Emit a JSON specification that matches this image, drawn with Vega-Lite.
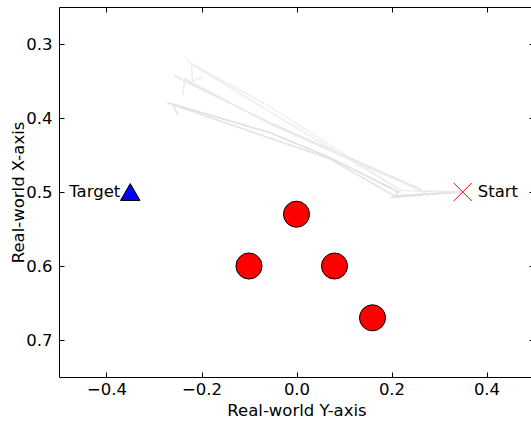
{
  "$schema": "https://vega.github.io/schema/vega-lite/v6.json",
  "autosize": "none",
  "padding": {"left": 59, "top": 7, "right": 0, "bottom": 45},
  "width": 475,
  "height": 370,
  "background": "white",
  "config": {
    "view": {"stroke": "black", "strokeWidth": 1},
    "font": "DejaVu Sans",
    "axis": {"grid": false, "domain": false, "tickColor": "black", "tickSize": -5, "tickWidth": 1, "labelFont": "DejaVu Sans", "labelFontSize": 16.5, "labelColor": "black", "titleFont": "DejaVu Sans", "titleFontSize": 16.5, "titleFontWeight": "normal", "titleColor": "black"}
  },
  "datasets": {
    "traj": [
      {"traj": "t1", "o": 0, "y": 0.347, "x": 0.5},
      {"traj": "t1", "o": 1, "y": 0.272, "x": 0.5027},
      {"traj": "t1", "o": 2, "y": 0.202, "x": 0.5068},
      {"traj": "t1", "o": 3, "y": 0.219, "x": 0.4973},
      {"traj": "t1", "o": 4, "y": -0.055, "x": 0.385},
      {"traj": "t1", "o": 5, "y": -0.223, "x": 0.3257},
      {"traj": "t1", "o": 6, "y": -0.234, "x": 0.3176},
      {"traj": "t2", "o": 0, "y": 0.347, "x": 0.5},
      {"traj": "t2", "o": 1, "y": 0.272, "x": 0.503},
      {"traj": "t2", "o": 2, "y": 0.26, "x": 0.496},
      {"traj": "t2", "o": 3, "y": -0.055, "x": 0.4068},
      {"traj": "t2", "o": 4, "y": -0.248, "x": 0.346},
      {"traj": "t2", "o": 5, "y": -0.259, "x": 0.342},
      {"traj": "t3", "o": 0, "y": 0.347, "x": 0.5},
      {"traj": "t3", "o": 1, "y": 0.202, "x": 0.507},
      {"traj": "t3", "o": 2, "y": 0.215, "x": 0.5},
      {"traj": "t3", "o": 3, "y": 0.072, "x": 0.454},
      {"traj": "t3", "o": 4, "y": -0.055, "x": 0.42},
      {"traj": "t3", "o": 5, "y": -0.261, "x": 0.381},
      {"traj": "t3", "o": 6, "y": -0.272, "x": 0.38},
      {"traj": "t4", "o": 0, "y": 0.347, "x": 0.5},
      {"traj": "t4", "o": 1, "y": 0.22, "x": 0.498},
      {"traj": "t4", "o": 2, "y": -0.06, "x": 0.39},
      {"traj": "t4", "o": 3, "y": -0.221, "x": 0.327},
      {"traj": "t4", "o": 4, "y": -0.219, "x": 0.35},
      {"traj": "t4", "o": 5, "y": -0.196, "x": 0.3446},
      {"traj": "t5", "o": 0, "y": 0.347, "x": 0.5},
      {"traj": "t5", "o": 1, "y": 0.265, "x": 0.499},
      {"traj": "t5", "o": 2, "y": -0.05, "x": 0.41},
      {"traj": "t5", "o": 3, "y": -0.235, "x": 0.347},
      {"traj": "t5", "o": 4, "y": -0.24, "x": 0.369},
      {"traj": "t6", "o": 0, "y": 0.347, "x": 0.5},
      {"traj": "t6", "o": 1, "y": 0.205, "x": 0.505},
      {"traj": "t6", "o": 2, "y": 0.07, "x": 0.455},
      {"traj": "t6", "o": 3, "y": -0.26, "x": 0.382},
      {"traj": "t6", "o": 4, "y": -0.25, "x": 0.396}
    ],
    "obstacles": [
      {"y": 0.0, "x": 0.53},
      {"y": -0.1, "x": 0.6},
      {"y": 0.08, "x": 0.6},
      {"y": 0.16, "x": 0.67}
    ],
    "target": [{"y": -0.35, "x": 0.5, "label": "Target"}],
    "start": [{"y": 0.35, "x": 0.5, "label": "Start"}]
  },
  "layer": [
    {
      "layer": [
        {
          "data": {"name": "traj"},
          "mark": {"type": "line", "strokeWidth": 1.6, "interpolate": "linear"},
          "encoding": {
            "x": {"field": "y", "type": "quantitative", "scale": {"domain": [-0.5, 0.5], "nice": false, "zero": false}, "axis": {"orient": "bottom", "values": [-0.4, -0.2, 0.0, 0.2, 0.4], "format": ".1f", "title": "Real-world Y-axis", "labelPadding": 9, "titlePadding": 5}},
            "y": {"field": "x", "type": "quantitative", "scale": {"domain": [0.25, 0.75], "reverse": true, "nice": false, "zero": false}, "axis": {"orient": "left", "values": [0.3, 0.4, 0.5, 0.6, 0.7], "format": ".1f", "title": "Real-world X-axis", "labelPadding": 12, "titlePadding": -1}},
            "detail": {"field": "traj"},
            "order": {"field": "o", "type": "quantitative"},
            "color": {"field": "traj", "type": "nominal", "legend": null, "scale": {"domain": ["t1", "t2", "t3", "t4", "t5", "t6"], "range": ["#f0f0f0", "#e6e6e6", "#dfdfdf", "#eeeeee", "#ebebeb", "#e4e4e4"]}}
          }
        },
        {
          "data": {"name": "obstacles"},
          "mark": {"type": "point", "shape": "circle", "filled": true, "fill": "#ff0000", "stroke": "black", "strokeWidth": 1, "opacity": 1, "size": 680},
          "encoding": {
            "x": {"field": "y", "type": "quantitative"},
            "y": {"field": "x", "type": "quantitative"}
          }
        },
        {
          "data": {"name": "target"},
          "mark": {"type": "point", "shape": "triangle-up", "filled": true, "fill": "#0000ff", "stroke": "black", "strokeWidth": 1, "opacity": 1, "size": 380},
          "encoding": {
            "x": {"field": "y", "type": "quantitative"},
            "y": {"field": "x", "type": "quantitative"}
          }
        },
        {
          "data": {"name": "target"},
          "mark": {"type": "text", "align": "right", "baseline": "middle", "dx": -10, "fontSize": 16.5, "font": "DejaVu Sans", "color": "black"},
          "encoding": {
            "x": {"field": "y", "type": "quantitative"},
            "y": {"field": "x", "type": "quantitative"},
            "text": {"field": "label"}
          }
        },
        {
          "data": {"name": "start"},
          "mark": {"type": "point", "shape": "M-1,-1L1,1M-1,1L1,-1", "filled": false, "stroke": "#ff0000", "strokeWidth": 1, "opacity": 1, "size": 330},
          "encoding": {
            "x": {"field": "y", "type": "quantitative"},
            "y": {"field": "x", "type": "quantitative"}
          }
        },
        {
          "data": {"name": "start"},
          "mark": {"type": "text", "align": "left", "baseline": "middle", "dx": 15, "fontSize": 16.5, "font": "DejaVu Sans", "color": "black"},
          "encoding": {
            "x": {"field": "y", "type": "quantitative"},
            "y": {"field": "x", "type": "quantitative"},
            "text": {"field": "label"}
          }
        }
      ]
    },
    {
      "data": {"name": "obstacles"},
      "mark": {"type": "point", "opacity": 0},
      "encoding": {
        "x": {"field": "y", "type": "quantitative", "scale": {"domain": [-0.5, 0.5], "nice": false, "zero": false}, "axis": {"orient": "top", "values": [-0.4, -0.2, 0.0, 0.2, 0.4], "labels": false, "title": null}},
        "y": {"field": "x", "type": "quantitative", "scale": {"domain": [0.25, 0.75], "reverse": true, "nice": false, "zero": false}, "axis": {"orient": "right", "values": [0.3, 0.4, 0.5, 0.6, 0.7], "labels": false, "title": null}}
      }
    }
  ],
  "resolve": {"axis": {"x": "independent", "y": "independent"}}
}
